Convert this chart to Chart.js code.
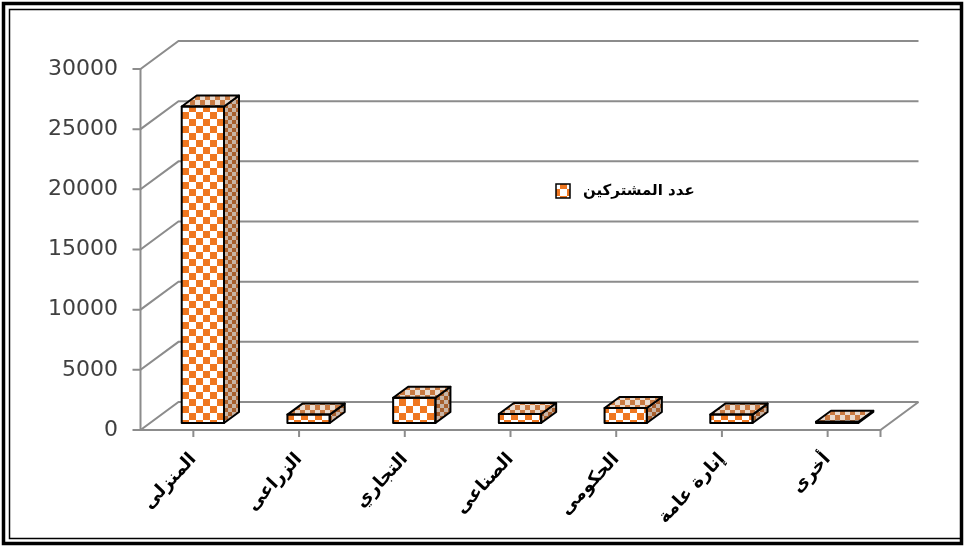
<!DOCTYPE html>
<html>
<head>
<meta charset="utf-8">
<script src="https://cdn.jsdelivr.net/npm/chart.js@4.4.1/dist/chart.umd.min.js"></script>
<style>
  html, body { margin: 0; padding: 0; background: #fff; }
  canvas { display: block; }
</style>
</head>
<body>
<canvas id="chart" width="965" height="547"></canvas>
<script>
// data
var categories = ['المنزلى', 'الزراعى', 'التجاري', 'الصناعى', 'الحكومى', 'إنارة عامة', 'أخرى'];
var subscribers = [26300, 700, 2100, 750, 1250, 700, 100];
var yTicks = [0, 5000, 10000, 15000, 20000, 25000, 30000];
var seriesName = 'عدد المشتركين';

// 3d offsets, relative to the plane the bars' front faces sit on
var FRONT = { dx: -9.5, dy: 7 };
var BACK = { dx: 28.5, dy: -21 };
var BAR_DEPTH = { dx: 15, dy: -11 };

function checker(size, c1, c2) {
    var cv = document.createElement('canvas');
    cv.width = size * 2;
    cv.height = size * 2;
    var g = cv.getContext('2d');
    g.fillStyle = c2;
    g.fillRect(0, 0, size * 2, size * 2);
    g.fillStyle = c1;
    g.fillRect(0, 0, size, size);
    g.fillRect(size, size, size, size);
    return document.getElementById('chart').getContext('2d').createPattern(cv, 'repeat');
}

var frontFill = checker(7, '#ef7720', '#ffffff');
var sideFill = checker(4, '#a8602e', '#c9b4a4');
var topFill = checker(5, '#c97a42', '#eadbcf');
var legendFill = checker(7, '#ef7720', '#ffffff');

var threeD = {
    id: 'threeD',
    beforeDatasetsDraw: function(chart) {
        var ctx = chart.ctx, area = chart.chartArea;
        var ys = chart.scales.y, xs = chart.scales.x;
        ctx.save();
        ctx.strokeStyle = '#8c8c8c';
        ctx.lineWidth = 2;
        yTicks.forEach(function(v) {
            var y = ys.getPixelForValue(v);
            ctx.beginPath();
            ctx.moveTo(area.left + FRONT.dx - 8, y + FRONT.dy);
            ctx.lineTo(area.left + FRONT.dx, y + FRONT.dy);
            ctx.lineTo(area.left + BACK.dx, y + BACK.dy);
            ctx.lineTo(area.right + BACK.dx, y + BACK.dy);
            ctx.stroke();
        });
        var y0 = ys.getPixelForValue(0), yTop = ys.getPixelForValue(yTicks[yTicks.length - 1]);
        ctx.beginPath();
        ctx.moveTo(area.left + FRONT.dx, yTop + FRONT.dy);
        ctx.lineTo(area.left + FRONT.dx, y0 + FRONT.dy);
        ctx.lineTo(area.right + FRONT.dx, y0 + FRONT.dy);
        ctx.lineTo(area.right + BACK.dx, y0 + BACK.dy);
        ctx.stroke();
        // category ticks under the floor
        ctx.beginPath();
        categories.forEach(function(c, i) {
            var x = xs.getPixelForValue(i) + FRONT.dx;
            ctx.moveTo(x, y0 + FRONT.dy);
            ctx.lineTo(x, y0 + FRONT.dy + 7);
        });
        ctx.moveTo(area.right + FRONT.dx, y0 + FRONT.dy);
        ctx.lineTo(area.right + FRONT.dx, y0 + FRONT.dy + 7);
        ctx.stroke();
        ctx.restore();
    },
    afterDatasetsDraw: function(chart) {
        var ctx = chart.ctx;
        var meta = chart.getDatasetMeta(0);
        ctx.save();
        ctx.lineWidth = 2;
        ctx.strokeStyle = '#000';
        ctx.lineJoin = 'round';
        meta.data.forEach(function(el) {
            var p = el.getProps(['x', 'y', 'base', 'width'], true);
            var l = p.x - p.width / 2, r = p.x + p.width / 2, t = p.y, b = p.base;
            // side
            ctx.beginPath();
            ctx.moveTo(r, t);
            ctx.lineTo(r + BAR_DEPTH.dx, t + BAR_DEPTH.dy);
            ctx.lineTo(r + BAR_DEPTH.dx, b + BAR_DEPTH.dy);
            ctx.lineTo(r, b);
            ctx.closePath();
            ctx.fillStyle = sideFill;
            ctx.fill();
            ctx.stroke();
            // top
            ctx.beginPath();
            ctx.moveTo(l, t);
            ctx.lineTo(l + BAR_DEPTH.dx, t + BAR_DEPTH.dy);
            ctx.lineTo(r + BAR_DEPTH.dx, t + BAR_DEPTH.dy);
            ctx.lineTo(r, t);
            ctx.closePath();
            ctx.fillStyle = topFill;
            ctx.fill();
            ctx.stroke();
            // front outline
            ctx.strokeRect(l, t, r - l, b - t);
        });
        ctx.restore();
    },
    afterDraw: function(chart) {
        var ctx = chart.ctx;
        ctx.save();
        // legend
        ctx.fillStyle = legendFill;
        ctx.fillRect(556, 184, 14, 14);
        ctx.strokeStyle = '#000';
        ctx.lineWidth = 1.5;
        ctx.strokeRect(556, 184, 14, 14);
        ctx.fillStyle = '#000';
        ctx.font = 'bold 15px "DejaVu Sans"';
        ctx.textBaseline = 'middle';
        ctx.textAlign = 'left';
        ctx.fillText(chart.data.datasets[0].label, 583, 191);
        // frame
        ctx.lineWidth = 3.5;
        ctx.strokeRect(3.5, 3.5, 958, 540);
        ctx.lineWidth = 1.5;
        ctx.beginPath();
        ctx.moveTo(960, 9.5);
        ctx.lineTo(9.5, 9.5);
        ctx.lineTo(9.5, 538.5);
        ctx.lineTo(960, 538.5);
        ctx.stroke();
        ctx.restore();
    }
};

new Chart(document.getElementById('chart'), {
    type: 'bar',
    data: {
        labels: categories,
        datasets: [{
            label: seriesName,
            data: subscribers,
            backgroundColor: frontFill,
            borderColor: '#000',
            borderWidth: 0,
            barPercentage: 0.4,
            categoryPercentage: 1
        }]
    },
    options: {
        responsive: false,
        animation: false,
        layout: { padding: { top: 62, right: 75, left: 0, bottom: 0 } },
        plugins: {
            legend: { display: false },
            tooltip: { enabled: false }
        },
        scales: {
            x: {
                grid: { display: false, drawTicks: false },
                border: { display: false },
                ticks: {
                    minRotation: 47,
                    maxRotation: 47,
                    padding: 26,
                    labelOffset: -9.5,
                    color: '#000',
                    font: { family: 'DejaVu Sans', size: 18, weight: 'bold' }
                },
                afterFit: function(s) { s.height = 124; }
            },
            y: {
                min: 0,
                max: 30000,
                grid: { display: false, drawTicks: false },
                border: { display: false },
                ticks: {
                    stepSize: 5000,
                    padding: 32,
                    labelOffset: 7,
                    color: '#404040',
                    font: { family: 'DejaVu Sans', size: 22 },
                    callback: function(v) { return String(v); }
                },
                afterFit: function(s) { s.width = 150; }
            }
        }
    },
    plugins: [threeD]
});
</script>
</body>
</html>
